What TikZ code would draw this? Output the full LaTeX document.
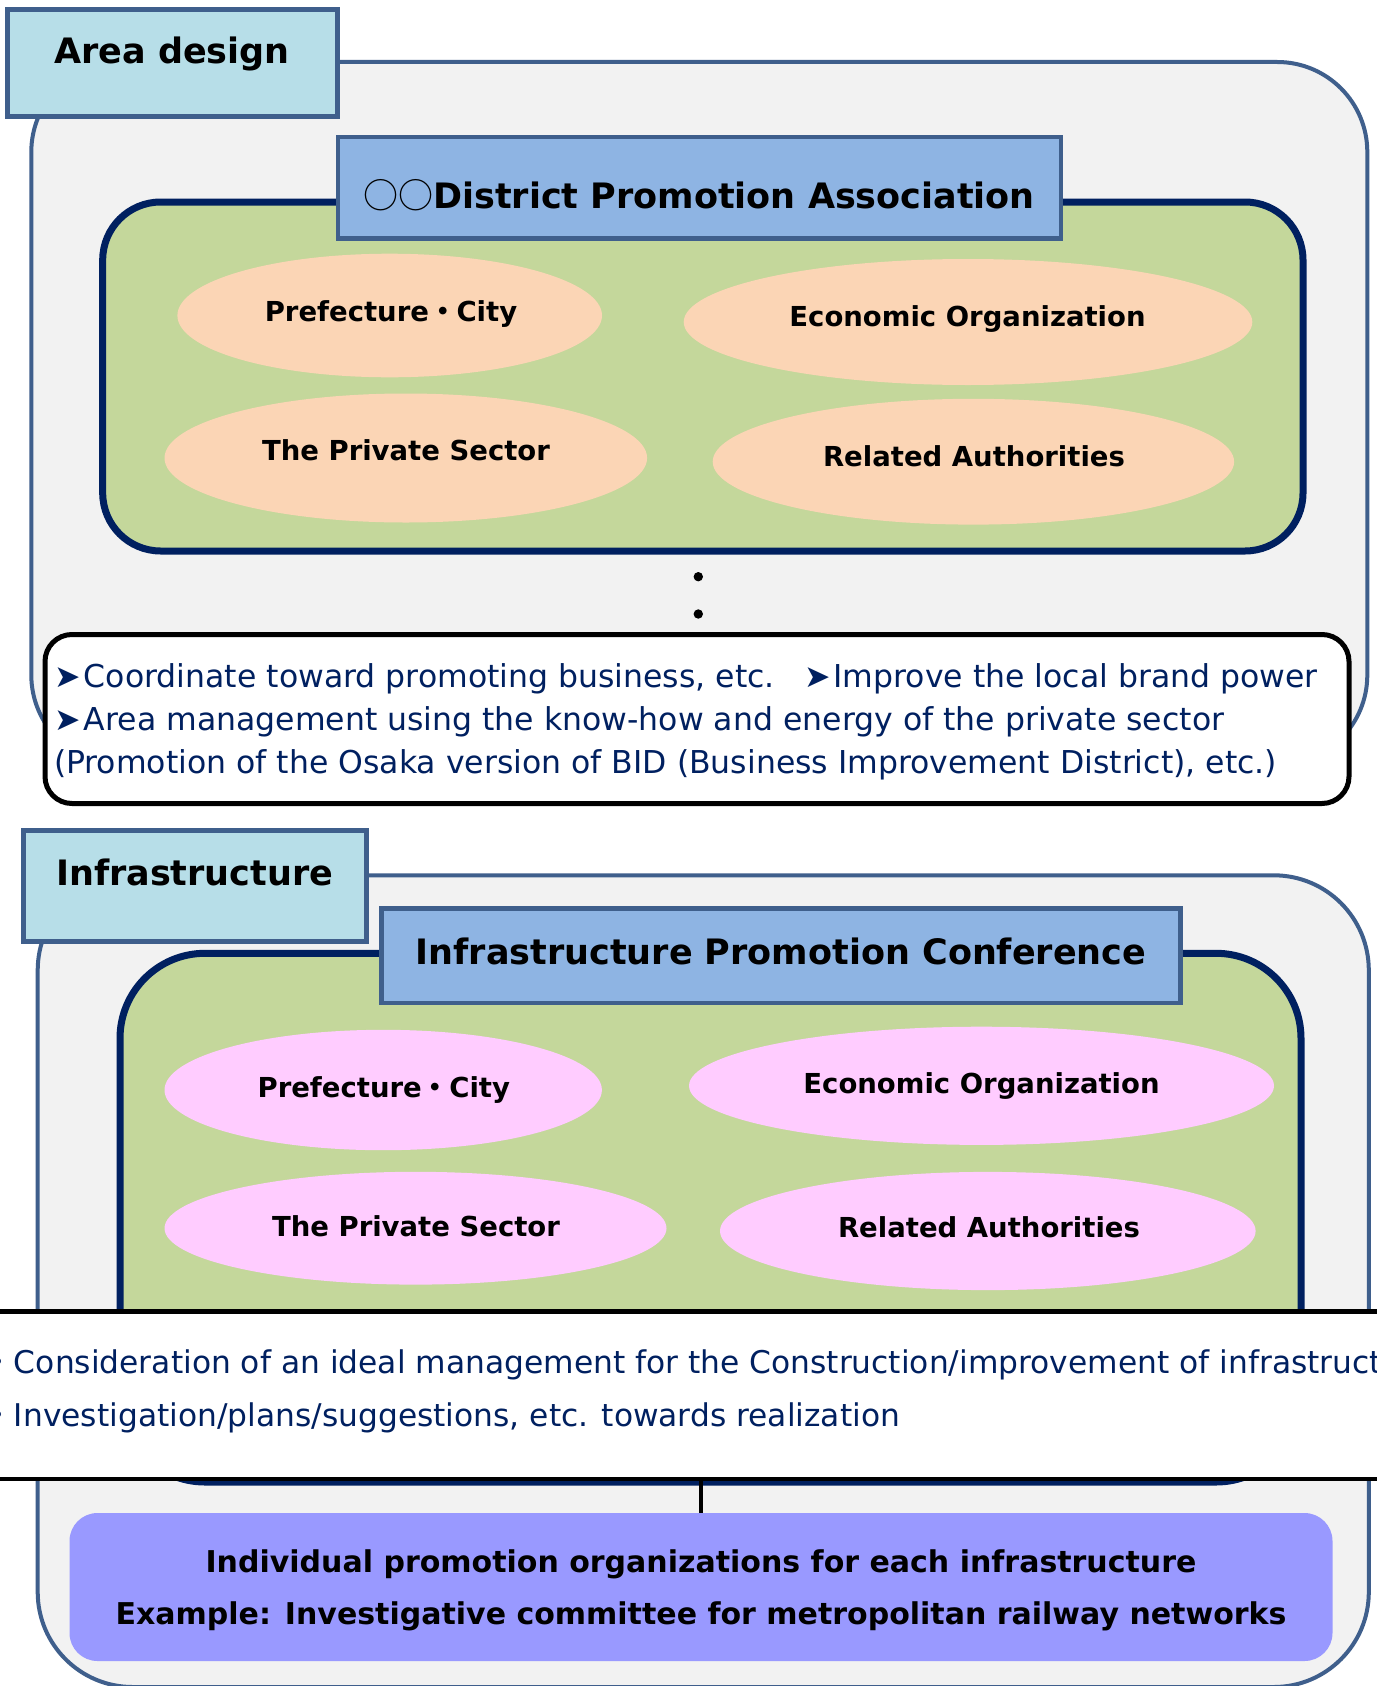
\documentclass[tikz,border=0pt]{standalone}
\usepackage{fontspec}
\setmainfont{DejaVu Sans}
\newfontfamily\cjk{Noto Sans CJK JP}

\definecolor{panelgrey}{HTML}{F2F2F2}
\definecolor{panelline}{HTML}{3F5F8C}
\definecolor{tabblue}{HTML}{B7DEE8}
\definecolor{titleblue}{HTML}{8EB4E3}
\definecolor{groupgreen}{HTML}{C4D79B}
\definecolor{navy}{HTML}{002060}
\definecolor{peach}{HTML}{FBD5B5}
\definecolor{memberpink}{HTML}{FFCCFF}
\definecolor{orgpurple}{HTML}{9999FF}

\newcommand\tabfont{\fontsize{35}{42}\selectfont\bfseries}
\newcommand\memberfont{\fontsize{27.5}{33}\selectfont\bfseries}
\newcommand\notefont{\fontsize{31.5}{38}\selectfont}
\newcommand\bandfont{\fontsize{31.3}{38}\selectfont}
\newcommand\orgfont{\fontsize{30}{52.6}\selectfont\bfseries}
\newcommand\pointer{➤\kern3pt}

\begin{document}
\begin{tikzpicture}[x=1pt, y=1pt,
		panel/.style={fill=panelgrey, draw=panelline, line width=4pt},
		tabbox/.style={fill=tabblue, draw=panelline, line width=5pt},
		titlebox/.style={fill=titleblue, draw=panelline, line width=4.5pt},
		groupbox/.style={fill=groupgreen, draw=navy, line width=7pt},
		heading/.style={anchor=base, inner sep=0pt, font=\tabfont},
		member/.style={anchor=base, inner sep=0pt, font=\memberfont},
		notetext/.style={anchor=base west, inner sep=0pt, text=navy, font=\notefont},
		bandtext/.style={notetext, font=\bandfont}]

		\useasboundingbox (0, 0) rectangle (1376, -1686);
		\fill [white] (0, 0) rectangle (1376, -1686);

		% area design
		\draw [panel, rounded corners=90pt] (31.3, -62) rectangle (1367.3, -765);
		\draw [tabbox] (7.6, -9.5) rectangle (337, -116);
		\draw (172, -63.3) node[heading] (areatab) {Area design};

		\draw [groupbox, rounded corners=58pt] (102.7, -202) rectangle (1303, -551);
		\draw [titlebox] (338, -137) rectangle (1061, -238.5);
		\draw (699, -208.3) node[heading] (districttitle) {{\cjk\mdseries ○○}District Promotion Association};

		\fill [peach] (389.7, -315.5) ellipse [x radius=212.3, y radius=61.8];
		\draw (391, -321.7) node[member] (citya) {Prefecture{\cjk ・}City};

		\fill [peach] (968, -322) ellipse [x radius=284.3, y radius=63];
		\draw (967.5, -326) node[member] (econa) {Economic Organization};

		\fill [peach] (405.8, -458) ellipse [x radius=241.3, y radius=64.5];
		\draw (406, -460.5) node[member] (privatea) {The Private Sector};

		\fill [peach] (973.4, -461.7) ellipse [x radius=260.7, y radius=62.9];
		\draw (974, -466) node[member] (authoritya) {Related Authorities};

		\fill (698.3, -576.7) circle [radius=4.7];
		\fill (698.3, -614) circle [radius=4.7];

		\draw [fill=white, draw=black, line width=5pt, rounded corners=27pt] (45, -634.5) rectangle (1349, -803.5);
		\draw (54.4, -687) node[notetext] (coordnote) {\pointer Coordinate toward promoting business, etc.};
		\draw (804, -687) node[notetext] (brandnote) {\pointer Improve the local brand power};
		\draw (54.4, -730.7) node[notetext] (mgmtnote) {\pointer Area management using the know-how and energy of the private sector};
		\draw (53.8, -773.5) node[notetext] (bidnote) {(Promotion of the Osaka version of BID (Business Improvement District), etc.)};

		% infrastructure
		\draw [panel, rounded corners=95pt] (37.7, -875.3) rectangle (1368.8, -1687);
		\draw [tabbox] (23.3, -830) rectangle (366.5, -941.7);
		\draw (194.7, -885) node[heading] (infratab) {Infrastructure};

		\draw [groupbox, rounded corners=85pt] (120, -953.3) rectangle (1301, -1482);
		\draw [titlebox] (381.7, -908.5) rectangle (1180.4, -1003);
		\draw (781, -964) node[heading] (infratitle) {Infrastructure Promotion Conference};

		\fill [memberpink] (383.2, -1090) ellipse [x radius=218.7, y radius=60.2];
		\draw (383.8, -1097) node[member] (cityb) {Prefecture{\cjk ・}City};

		\fill [memberpink] (981.5, -1085.8) ellipse [x radius=292.5, y radius=59.1];
		\draw (981.5, -1093.6) node[member] (econb) {Economic Organization};

		\fill [memberpink] (415.5, -1228.2) ellipse [x radius=251, y radius=56.4];
		\draw (416, -1236.6) node[member] (privateb) {The Private Sector};

		\fill [memberpink] (987.8, -1231) ellipse [x radius=267.8, y radius=59.1];
		\draw (989, -1237.7) node[member] (authorityb) {Related Authorities};

		\draw [fill=white, draw=black, line width=4.7pt] (-10, -1311.7) rectangle (1386, -1479);
		\draw (-17.5, -1373.3) node[bandtext] (considernote) {{\cjk ・}Consideration of an ideal management for the Construction/improvement of infrastructure};
		\draw (-17.5, -1426.7) node[bandtext] (investnote) {{\cjk ・}Investigation/plans/suggestions, etc. towards realization};

		\node [fill=orgpurple, rounded corners=28pt, minimum width=1263pt, minimum height=148pt,
			inner sep=0pt, text depth=0pt, align=center, font=\orgfont] (individual) at (701, -1587)
			{Individual promotion organizations for each infrastructure\\
			Example: Investigative committee for metropolitan railway networks};

		\coordinate (bandedge) at (701, -1479);
		\draw [line width=4pt] (bandedge) -- (individual.north);
	\end{tikzpicture}
\end{document}
